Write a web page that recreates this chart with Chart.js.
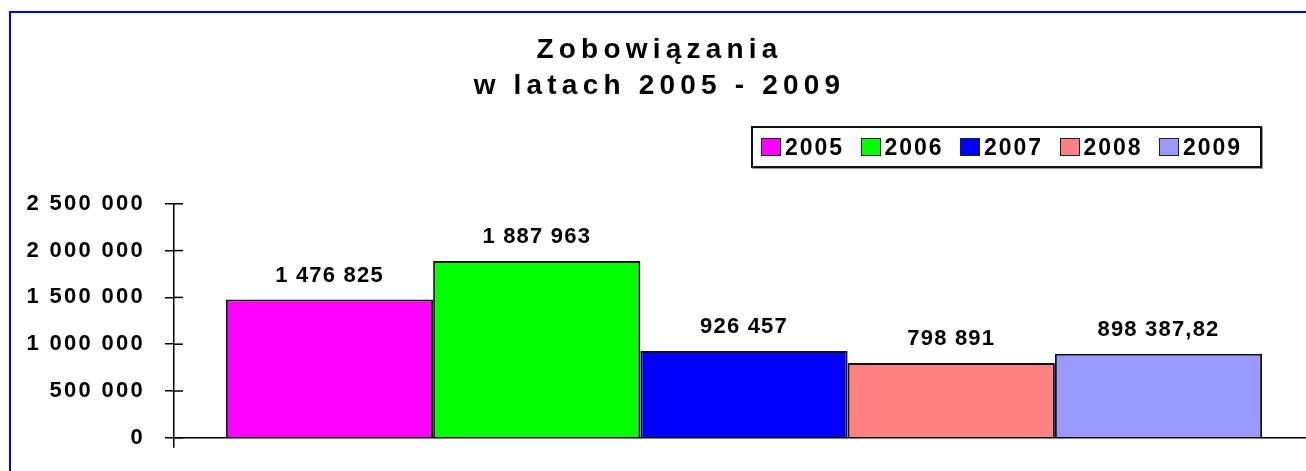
<!DOCTYPE html>
<html lang="pl">
<head>
  <meta charset="UTF-8" />
  <title>Zobowiązania w latach 2005 - 2009</title>
  <script src="https://cdn.jsdelivr.net/npm/chart.js"></script>
  <style>
    html, body { margin: 0; padding: 0; background: #fff; }
    body {
      width: 1306px; height: 471px; overflow: hidden; position: relative;
      font-family: "Liberation Sans", Arial, sans-serif;
    }
    .frame {
      position: absolute; left: 9px; top: 11px; width: 1400px; height: 600px;
      border-left: 2px solid #0000ff; border-top: 2px solid #0000ff;
    }
    .chart-box { position: absolute; left: 0; top: 0; width: 1320px; height: 471px; }
    #legend {
      position: absolute; left: 751px; top: 126px; width: 511px; height: 42px;
      box-sizing: border-box; border: 2px solid #111; box-shadow: 1px 1px 0 #999;
      display: flex; align-items: center; padding-left: 8px; background: #fff;
    }
    .item { display: flex; align-items: center; width: 99.5px; flex: none; }
    .swatch { width: 20px; height: 18px; box-sizing: border-box; border: 1.5px solid #222; margin-right: 4px; }
    .item span { font-weight: bold; font-size: 23px; letter-spacing: 2px; line-height: 1; margin-top: 1px; }
  </style>
</head>
<body>
  <div class="frame"></div>
  <div class="chart-box"><canvas id="debtChart"></canvas></div>
  <div id="legend"></div>

  <script>
    // data
    const titleLines = ['Zobowiązania', 'w latach 2005 - 2009'];
    const years = ['2005', '2006', '2007', '2008', '2009'];
    const amounts = [1476825, 1887963, 926457, 798891, 898387.82];
    const amountLabels = ['1 476 825', '1 887 963', '926 457', '798 891', '898 387,82'];
    const barColors = ['#ff00ff', '#00ff00', '#0000ff', '#ff8080', '#9999ff'];
    const yTickLabels = ['0', '500 000', '1 000 000', '1 500 000', '2 000 000', '2 500 000'];

    const fontFamily = '"Liberation Sans", Arial, sans-serif';

    // value labels above bars + inner half of the y tick marks
    const decorPlugin = {
      id: 'decor',
      beforeDraw(chart) {
        chart.ctx.letterSpacing = '5.2px'; // title
      },
      afterDatasetsDraw(chart) {
        const ctx = chart.ctx;
        ctx.save();
        ctx.letterSpacing = '1.2px';
        ctx.font = 'bold 22px ' + fontFamily;
        ctx.fillStyle = '#000';
        ctx.textAlign = 'center';
        ctx.textBaseline = 'alphabetic';
        chart.data.datasets.forEach((ds, i) => {
          const bar = chart.getDatasetMeta(i).data[0];
          ctx.fillText(amountLabels[i], bar.x, bar.y - 18);
        });
        const y = chart.scales.y;
        ctx.strokeStyle = '#000';
        ctx.lineWidth = 1.5;
        y.ticks.forEach((t, i) => {
          const py = y.getPixelForTick(i);
          ctx.beginPath();
          ctx.moveTo(y.right, py);
          ctx.lineTo(y.right + 9, py);
          ctx.stroke();
        });
        ctx.restore();
        ctx.letterSpacing = '2.3px'; // y tick labels drawn after this
      }
    };

    const ctx = document.getElementById('debtChart').getContext('2d');
    const chart = new Chart(ctx, {
      type: 'bar',
      data: {
        labels: [''],
        datasets: years.map((yr, i) => ({
          label: yr,
          data: [amounts[i]],
          backgroundColor: barColors[i],
          borderColor: '#111',
          borderWidth: 2,
          categoryPercentage: 0.909,
          barPercentage: 1
        }))
      },
      options: {
        responsive: true,
        maintainAspectRatio: false,
        animation: false,
        layout: { padding: { left: 5, right: 6, top: 0, bottom: 18 } },
        plugins: {
          legend: { display: false },
          tooltip: { enabled: false },
          title: {
            display: true,
            text: titleLines,
            color: '#000',
            font: { family: fontFamily, size: 28, weight: 'bold', lineHeight: 1.3 },
            padding: { top: 32, bottom: 99 }
          }
        },
        scales: {
          x: {
            offset: true,
            ticks: { display: false },
            grid: { drawOnChartArea: false, color: '#000', lineWidth: 1.5, tickLength: 10, offset: true },
            border: { color: '#000', width: 1.5 }
          },
          y: {
            min: 0,
            max: 2500000,
            afterFit(scale) { scale.width = 169; },
            ticks: {
              stepSize: 500000,
              z: 1,
              padding: 20,
              color: '#000',
              font: { family: fontFamily, size: 22, weight: 'bold' },
              callback: (v, i) => yTickLabels[i]
            },
            grid: { drawOnChartArea: false, color: '#000', lineWidth: 1.5, tickLength: 9 },
            border: { color: '#000', width: 1.5 }
          }
        }
      },
      plugins: [decorPlugin]
    });

    // legend box built from the chart's datasets
    const legendEl = document.getElementById('legend');
    chart.data.datasets.forEach(ds => {
      const item = document.createElement('div');
      item.className = 'item';
      const sw = document.createElement('div');
      sw.className = 'swatch';
      sw.style.background = ds.backgroundColor;
      const txt = document.createElement('span');
      txt.textContent = ds.label;
      item.appendChild(sw);
      item.appendChild(txt);
      legendEl.appendChild(item);
    });
  </script>
</body>
</html>
